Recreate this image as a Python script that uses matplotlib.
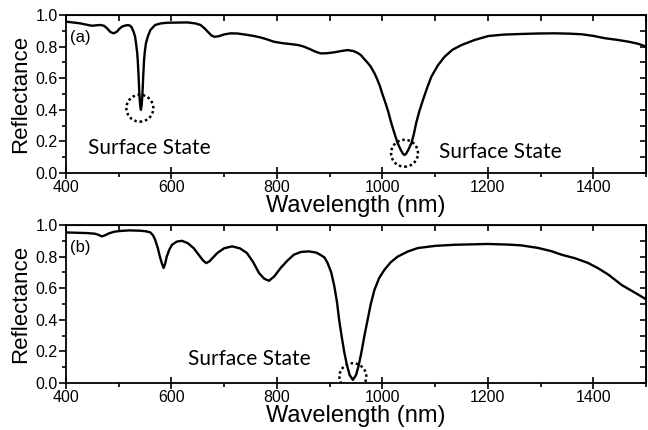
import matplotlib
matplotlib.use("Agg")
import matplotlib.pyplot as plt
from matplotlib.patches import Ellipse
from matplotlib.ticker import MultipleLocator, FormatStrFormatter

plt.rcParams["font.family"] = ["Liberation Sans", "DejaVu Sans"]

# panel (a): reflectance spectrum
wl_a = [400, 415, 427, 440, 449, 458, 465, 472, 478, 484, 490, 496, 501, 506,
        514, 520, 524, 528, 531, 533, 535, 536, 537.5, 539, 540.5, 542, 543.5,
        545, 546.5, 548, 549.5, 551.5, 555, 560, 569, 580, 592, 610, 630, 645,
        655, 663, 670, 676, 682, 690, 700, 712, 725, 740, 755, 769, 782, 794,
        810, 826, 840, 851, 862, 873, 883, 895, 909, 922, 934, 945, 953, 959,
        966, 972, 978, 985, 990, 995, 1000, 1004, 1011, 1017, 1023, 1029, 1035,
        1039, 1042, 1045, 1049, 1055, 1060, 1064, 1070, 1077, 1085, 1093, 1105,
        1118, 1133, 1150, 1175, 1201, 1230, 1264, 1295, 1327, 1355, 1378, 1400,
        1422, 1445, 1467, 1485, 1500]
refl_a = [0.958, 0.952, 0.947, 0.938, 0.932, 0.935, 0.937, 0.932, 0.915, 0.893,
          0.884, 0.893, 0.912, 0.926, 0.935, 0.935, 0.925, 0.895, 0.863, 0.815,
          0.76, 0.715, 0.62, 0.506, 0.43, 0.40, 0.43, 0.506, 0.62, 0.715, 0.77,
          0.82, 0.863, 0.905, 0.937, 0.947, 0.951, 0.952, 0.953, 0.947, 0.937,
          0.915, 0.89, 0.87, 0.862, 0.866, 0.877, 0.884, 0.883, 0.876, 0.868,
          0.858, 0.845, 0.831, 0.822, 0.816, 0.81, 0.80, 0.785, 0.768, 0.757,
          0.758, 0.764, 0.772, 0.778, 0.772, 0.76, 0.747, 0.72, 0.698, 0.673,
          0.631, 0.595, 0.553, 0.50, 0.462, 0.39, 0.315, 0.25, 0.188, 0.145,
          0.122, 0.114, 0.122, 0.145, 0.188, 0.25, 0.315, 0.39, 0.462, 0.54,
          0.61, 0.68, 0.736, 0.78, 0.81, 0.842, 0.867, 0.876, 0.88, 0.883,
          0.884, 0.882, 0.878, 0.868, 0.853, 0.843, 0.831, 0.818, 0.80]

# panel (b)
wl_b = [400, 420, 440, 455, 462, 468, 474, 482, 492, 505, 520, 541, 552, 560,
        565, 569, 574, 578, 581.5, 585, 588, 591, 596, 601, 610, 620, 631, 642,
        652, 660, 666, 672, 679, 687, 700, 715, 730, 743, 755, 766, 776, 785,
        795, 807, 820, 832, 846, 861, 875, 883, 890, 896, 903, 909, 914, 918,
        923, 928, 933, 938, 944, 950, 955, 960, 966, 972, 978, 985, 994, 1004,
        1016, 1029, 1048, 1067, 1100, 1137, 1200, 1240, 1264, 1295, 1320, 1340,
        1365, 1390, 1410, 1429, 1454, 1480, 1500]
refl_b = [0.953, 0.951, 0.949, 0.945, 0.937, 0.928, 0.935, 0.948, 0.958, 0.963,
          0.966, 0.964, 0.96, 0.953, 0.935, 0.907, 0.855, 0.80, 0.76, 0.728,
          0.755, 0.80, 0.845, 0.875, 0.895, 0.90, 0.885, 0.854, 0.81, 0.775,
          0.759, 0.77, 0.795, 0.823, 0.853, 0.865, 0.852, 0.823, 0.765, 0.696,
          0.66, 0.647, 0.675, 0.728, 0.775, 0.812, 0.83, 0.833, 0.825, 0.81,
          0.795, 0.76, 0.70, 0.61, 0.51, 0.40, 0.29, 0.19, 0.11, 0.05, 0.02,
          0.05, 0.11, 0.19, 0.30, 0.40, 0.50, 0.59, 0.665, 0.717, 0.765, 0.80,
          0.832, 0.854, 0.868, 0.875, 0.88, 0.876, 0.871, 0.855, 0.835, 0.812,
          0.79, 0.76, 0.725, 0.685, 0.62, 0.57, 0.53]

panel_tags = ["(a)", "(b)"]
# dip markers (wavelength, reflectance) and annotation text position
circles_a = [(540, 0.41), (1042, 0.125)]
circles_b = [(944, 0.04)]
notes_a = [(442, 0.158), (1108, 0.133)]
notes_b = [(632, 0.155)]

fig = plt.figure(figsize=(6.48, 4.30), dpi=100)
ax_a = fig.add_axes([0.1019, 0.5977, 0.895, 0.3674])
ax_b = fig.add_axes([0.1019, 0.1093, 0.895, 0.3674])


def style_axes(ax):
    ax.set_xlim(400, 1500)
    ax.set_ylim(0, 1.0)
    ax.xaxis.set_major_locator(MultipleLocator(200))
    ax.xaxis.set_minor_locator(MultipleLocator(100))
    ax.yaxis.set_major_locator(MultipleLocator(0.2))
    ax.yaxis.set_minor_locator(MultipleLocator(0.1))
    ax.tick_params(which="both", direction="out", width=1.2, labelsize=11.5,
                   top=False, right=False)
    ax.tick_params(which="major", length=5)
    ax.tick_params(which="minor", length=3)
    ax.tick_params(axis="x", which="major", direction="inout", length=8, pad=1)
    ax.tick_params(axis="y", pad=1)
    ax.yaxis.set_major_formatter(FormatStrFormatter("%.1f"))
    for s in ax.spines.values():
        s.set_linewidth(1.3)
    top = ax.secondary_xaxis("top")
    top.set_xticks(range(400, 1501, 100))
    top.tick_params(direction="in", length=4, width=1.2, labeltop=False)
    right = ax.secondary_yaxis("right")
    right.set_yticks([i / 10 for i in range(11)])
    right.tick_params(direction="in", length=4, width=1.2, labelright=False)
    ax.set_xlabel("Wavelength (nm)", fontsize=17, labelpad=0)
    ax.set_ylabel("Reflectance", fontsize=16, labelpad=3)


for ax, wl, refl, tag, circles, notes in [
    (ax_a, wl_a, refl_a, panel_tags[0], circles_a, notes_a),
    (ax_b, wl_b, refl_b, panel_tags[1], circles_b, notes_b),
]:
    style_axes(ax)
    ax.plot(wl, refl, color="black", lw=1.7)
    ax.text(408, 0.855, tag, fontsize=12, va="center", ha="left")
    for cx, cy in circles:
        ax.add_patch(Ellipse((cx, cy), 51, 0.17, fill=False, ec="black",
                             lw=1.8, ls=(0, (1, 1.1))))
    for tx, ty in notes:
        ax.text(tx, ty, "Surface State", fontsize=15,
                family=["Lato", "DejaVu Sans"], va="center", ha="left")

fig.savefig("out.png", dpi=100)
